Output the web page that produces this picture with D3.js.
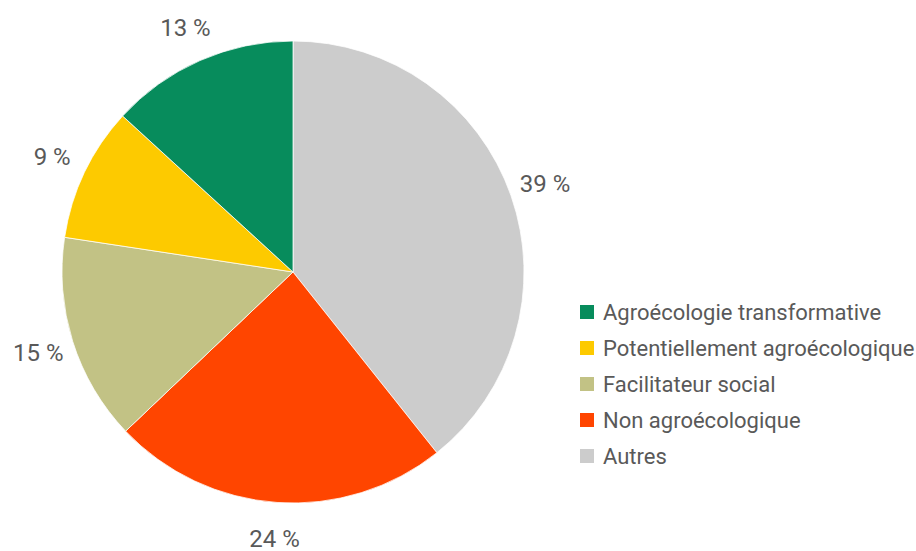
<!DOCTYPE html>
<html>
<head>
<meta charset="utf-8">

<script src="https://cdn.jsdelivr.net/npm/d3@7/dist/d3.min.js"></script>

<style>

  body, html {
    padding: 0;
    margin: 0;
    background: #fff;
  }

  svg {
    display: block;
    font-family: Roboto, "Noto Sans", sans-serif;
  }

</style>
</head>

<body>
  <svg width="916" height="551"></svg>

  <script>

    // data, in the order the slices run clockwise from 12 o'clock
    var categories = [
      'Autres',
      'Non agroécologique',
      'Facilitateur social',
      'Potentiellement agroécologique',
      'Agroécologie transformative'
    ];
    var shares = [39.3, 23.6, 14.5, 9.4, 13.2];
    var labels = ['39 %', '24 %', '15 %', '9 %', '13 %'];
    var colors = ['#cccccc', '#ff4500', '#c2c285', '#fdca00', '#078c5c'];

    // legend lists the categories the other way round
    var legendOrder = [4, 3, 2, 1, 0];

    var svg = d3.select('svg');

    var cx = 293, cy = 272, radius = 231;

    var data = categories.map(function (c, i) {
      return {name: c, value: shares[i], label: labels[i], color: colors[i]};
    });

    var pie = d3.pie()
      .sort(null)
      .value(function (d) { return d.value; });

    var arc = d3.arc().innerRadius(0).outerRadius(radius);
    // label centres sit on a ring just outside the pie
    var labelArc = d3.arc().innerRadius(267).outerRadius(267);

    var g = svg.append('g')
      .attr('transform', 'translate(' + cx + ',' + cy + ')');

    var slices = pie(data);

    g.selectAll('path')
      .data(slices)
      .enter()
      .append('path')
        .attr('d', arc)
        .style('fill', function (d) { return d.data.color; })
        .style('stroke', '#fff')
        .style('stroke-width', 0.75);

    g.selectAll('text.pct')
      .data(slices)
      .enter()
      .append('text')
        .attr('class', 'pct')
        .attr('x', function (d) { return labelArc.centroid(d)[0]; })
        .attr('y', function (d) { return labelArc.centroid(d)[1]; })
        .attr('text-anchor', 'middle')
        .attr('dy', '0.35em')
        .style('font-size', '24px')
        .style('fill', '#595959')
        .text(function (d) { return d.data.label; });

    // legend
    var legend = svg.append('g')
      .attr('transform', 'translate(580,312)');

    var row = legend.selectAll('g')
      .data(legendOrder.map(function (i) { return data[i]; }))
      .enter()
      .append('g')
        .attr('transform', function (d, i) { return 'translate(0,' + (i * 36) + ')'; });

    row.append('rect')
      .attr('x', 0)
      .attr('y', -7)
      .attr('width', 14)
      .attr('height', 14)
      .style('fill', function (d) { return d.color; });

    row.append('text')
      .attr('x', 23)
      .attr('y', 0)
      .attr('dy', '0.35em')
      .style('font-size', '22px')
      .style('fill', '#595959')
      .text(function (d) { return d.name; });

  </script>
</body>
</html>
